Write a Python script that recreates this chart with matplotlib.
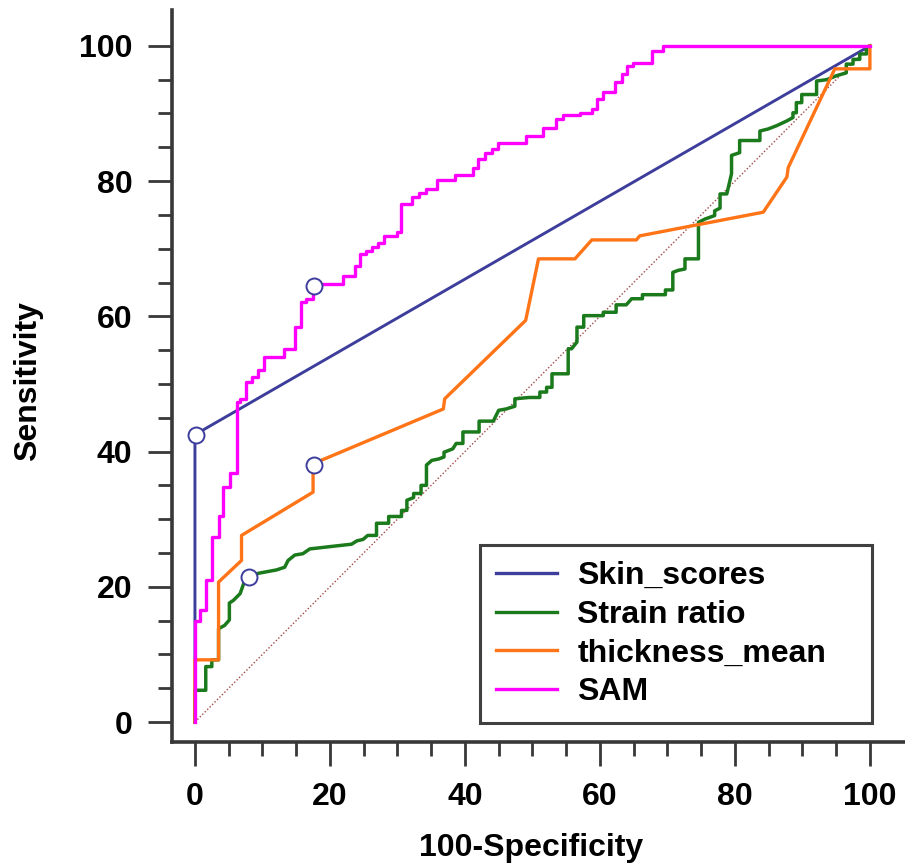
import matplotlib
matplotlib.use("Agg")
import matplotlib.pyplot as plt
from matplotlib.ticker import FixedLocator

# ---------------------------------------------------------------------------
# ROC curve vertices (100-Specificity, Sensitivity)
# ---------------------------------------------------------------------------
skin_x = [0, 0, 100]
skin_y = [0, 42.5, 100]

strain_x = [0, 0, 1.6, 1.6, 2.5, 2.5, 3.5, 3.5, 4.4, 5.1, 5.1, 5.7, 6.7, 7.4,
            8.0, 9.4, 12.1, 13.3, 13.8, 14.8, 16.0, 17.0, 20.5, 23.2, 24.0,
            24.9, 25.6, 26.9, 26.9, 28.7, 28.7, 30.6, 30.6, 31.4, 31.4, 32.4,
            32.4, 33.5, 33.5, 34.3, 34.3, 35.1, 36.1, 36.9, 36.9, 38.2, 38.7,
            39.7, 39.7, 42.1, 42.1, 44.2, 45.0, 46.1, 47.4, 47.4, 49.5, 51.1,
            51.1, 52.1, 52.1, 52.9, 52.9, 55.3, 55.3, 55.8, 56.6, 56.6, 57.6,
            57.6, 60.5, 60.5, 62.4, 62.4, 63.9, 64.7, 66.3, 66.3, 69.7, 69.7,
            70.8, 70.8, 71.6, 72.6, 72.6, 74.6, 74.6, 75.6, 77.0, 77.0, 77.8,
            77.8, 78.8, 79.5, 79.5, 80.7, 80.7, 83.7, 83.7, 84.9, 86.2, 87.7,
            88.6, 88.6, 89.1, 89.1, 89.9, 89.9, 92.1, 92.1, 93.6, 95.1, 96.5,
            96.5, 97.5, 97.5, 98.5, 98.5, 99.5, 99.5, 100]
strain_y = [0, 4.7, 4.7, 8.2, 8.2, 9.2, 9.2, 13.8, 14.3, 15.1, 17.6, 18.0, 19.0,
            21.0, 21.5, 22.0, 22.5, 22.9, 23.9, 24.7, 24.9, 25.6, 26.0, 26.3,
            26.8, 27.0, 27.6, 27.6, 29.4, 29.4, 30.4, 30.4, 31.3, 31.3, 32.8,
            33.2, 33.8, 33.8, 35.0, 35.0, 38.0, 38.7, 38.9, 39.2, 39.9, 40.4,
            41.2, 41.2, 42.9, 42.9, 44.5, 44.5, 46.1, 46.3, 46.7, 47.8, 48.0,
            48.0, 48.8, 48.8, 49.5, 49.5, 51.5, 51.5, 55.2, 55.2, 56.2, 58.4,
            58.4, 60.1, 60.1, 60.6, 60.6, 61.7, 61.7, 62.6, 62.6, 63.2, 63.2,
            63.9, 63.9, 66.5, 66.8, 67.0, 68.5, 68.5, 73.9, 74.4, 74.9, 75.6,
            76.0, 78.1, 78.1, 81.1, 83.8, 84.2, 86.0, 86.0, 87.4, 87.7, 88.2,
            88.9, 89.4, 90.1, 90.1, 91.6, 91.6, 92.8, 92.8, 94.8, 95.0, 95.6,
            96.0, 97.3, 97.3, 98.0, 98.0, 98.8, 98.8, 99.8, 100]

thick_x = [0, 0, 3.5, 3.5, 6.9, 6.9, 17.5, 17.5, 36.8, 37.0, 49.0, 50.9,
           56.3, 58.8, 65.4, 65.9, 84.2, 87.7, 87.9, 94.8, 100, 100]
thick_y = [0, 9.2, 9.2, 20.7, 23.9, 27.6, 34.0, 38.2, 46.3, 47.8, 59.4, 68.5,
           68.5, 71.3, 71.3, 71.9, 75.4, 80.6, 82.0, 96.6, 96.6, 100]

sam_x = [0, 0, 0.7, 0.7, 1.6, 1.6, 2.6, 2.6, 3.6, 3.6, 4.2, 4.2, 5.2, 5.2,
         6.3, 6.3, 6.7, 6.7, 7.5, 7.5, 8.4, 8.4, 9.4, 9.4, 10.2, 10.2, 13.2,
         13.2, 14.8, 14.8, 15.7, 15.7, 16.4, 16.4, 17.5, 17.5, 21.9, 21.9,
         23.7, 23.7, 24.4, 24.4, 25.3, 25.3, 26.3, 26.3, 27.1, 27.1, 28.0,
         28.0, 29.9, 29.9, 30.6, 30.6, 32.2, 32.2, 33.2, 33.2, 34.2, 34.2,
         35.9, 35.9, 38.6, 38.6, 41.2, 41.2, 42.0, 42.0, 43.0, 43.0, 44.0,
         44.0, 44.9, 44.9, 49.0, 49.0, 51.6, 51.6, 53.5, 53.5, 54.5, 54.5,
         57.0, 57.0, 58.8, 58.8, 59.6, 59.6, 60.5, 60.5, 62.2, 62.2, 63.2,
         63.2, 64.0, 64.0, 64.9, 64.9, 67.7, 67.7, 69.3, 69.3, 100]
sam_y = [0, 15, 15, 16.5, 16.5, 21, 21, 27.3, 27.3, 30.5, 30.5, 34.7, 34.7,
         36.9, 36.9, 47.3, 47.3, 47.8, 47.8, 50.3, 50.3, 51.0, 51.0, 52.0,
         52.0, 54.0, 54.0, 55.2, 55.2, 58.4, 58.4, 62.1, 62.1, 62.6, 62.6,
         64.8, 64.8, 65.9, 65.9, 67.5, 67.5, 69.2, 69.2, 69.7, 69.7, 70.2,
         70.2, 70.9, 70.9, 71.9, 71.9, 72.4, 72.4, 76.6, 76.6, 77.6, 77.6,
         78.3, 78.3, 78.8, 78.8, 80.1, 80.1, 80.9, 80.9, 82.0, 82.0, 83.2,
         83.2, 84.2, 84.2, 84.7, 84.7, 85.7, 85.7, 86.7, 86.7, 87.9, 87.9,
         89.2, 89.2, 89.7, 89.7, 90.1, 90.1, 90.6, 90.6, 92.1, 92.1, 93.2,
         93.2, 94.6, 94.6, 95.8, 95.8, 97.0, 97.0, 97.5, 97.5, 99.2, 99.2,
         100, 100]

# optimal cut-off points (open circles)
cut_x = [0.2, 8.0, 17.6, 17.6]
cut_y = [42.5, 21.5, 38.0, 64.5]

COLORS = {
    "skin": "#3D3D9C",
    "strain": "#1B7A1B",
    "thick": "#FF7417",
    "sam": "#FF00FF",
    "diag": "#A04848",
    "axis": "#383838",
}
FS = 23

plt.rcParams["font.family"] = ["Liberation Sans", "DejaVu Sans"]
plt.rcParams["font.weight"] = "bold"

fig = plt.figure(figsize=(9.05, 8.65), dpi=100)
ax = fig.add_axes([172 / 905, 1 - 742 / 865, 733 / 905, 732 / 865])

ax.plot([0, 100], [0, 100], color=COLORS["diag"], lw=1.0,
        linestyle=(0, (1, 1.5)), zorder=1)
ax.plot(skin_x, skin_y, color=COLORS["skin"], lw=2.1, label="Skin_scores", zorder=2)
ax.plot(strain_x, strain_y, color=COLORS["strain"], lw=2.5, label="Strain ratio", zorder=3)
ax.plot(thick_x, thick_y, color=COLORS["thick"], lw=2.4, label="thickness_mean", zorder=4)
ax.plot(sam_x, sam_y, color=COLORS["sam"], lw=2.4, label="SAM", zorder=5)
ax.plot(cut_x, cut_y, linestyle="none", marker="o", ms=11.5,
        mfc="white", mec=COLORS["skin"], mew=1.4, zorder=6)

ax.set_xlim(-3.4, 105.2)
ax.set_ylim(-2.95, 105.3)

for side in ("top", "right"):
    ax.spines[side].set_visible(False)
for side in ("left", "bottom"):
    ax.spines[side].set_linewidth(2.6)
    ax.spines[side].set_color(COLORS["axis"])

ticks = [0, 20, 40, 60, 80, 100]
minor = [v for v in range(5, 100, 5) if v % 20]
ax.xaxis.set_major_locator(FixedLocator(ticks))
ax.yaxis.set_major_locator(FixedLocator(ticks))
ax.xaxis.set_minor_locator(FixedLocator(minor))
ax.yaxis.set_minor_locator(FixedLocator(minor))
ax.tick_params(which="major", direction="out", length=17.5, width=2.0,
               color=COLORS["axis"], labelsize=FS, pad=11)
ax.tick_params(which="minor", direction="out", length=10, width=2.0,
               color=COLORS["axis"])
for lab in ax.get_xticklabels() + ax.get_yticklabels():
    lab.set_fontweight("bold")

ax.set_xlabel("100-Specificity", fontsize=FS, fontweight="bold", va="center")
ax.set_ylabel("Sensitivity", fontsize=FS, fontweight="bold", va="center")
ax.xaxis.set_label_coords(0.49, -0.145)
ax.yaxis.set_label_coords(-0.196, 0.493)

leg = ax.legend(loc="lower left", bbox_to_anchor=(0.420, 0.026, 0.535, 0.25),
                mode="expand", borderaxespad=0,
                prop={"weight": "bold", "size": FS},
                handlelength=1.9, handletextpad=0.65, labelspacing=0.27,
                borderpad=0.5, fancybox=False, framealpha=1)
leg.get_frame().set_edgecolor("#404040")
leg.get_frame().set_linewidth(2.2)
for line in leg.get_lines():
    line.set_linewidth(2.4)

fig.savefig("out.png", dpi=100, facecolor="white")
